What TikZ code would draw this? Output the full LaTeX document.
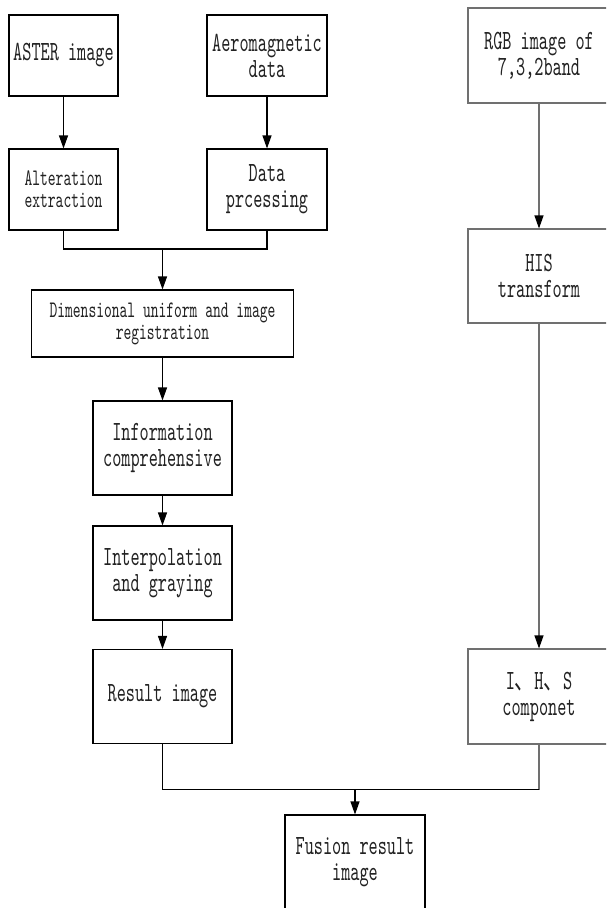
\documentclass[tikz,border=0pt]{standalone}
\usepackage{fontspec}
\usetikzlibrary{arrows.meta}
\newfontfamily\simfont[Extension=.otf, FakeStretch=0.626]{lmmono10-regular}
\newfontfamily\cjkfont[FakeStretch=0.7]{Noto Sans CJK SC}
\definecolor{txt}{HTML}{222222}
\definecolor{gline}{HTML}{707070}
\tikzset{
  box/.style={draw=black, line width=1.1pt, rectangle, inner sep=0pt, align=center,
    text=txt, font=\simfont\fontsize{27.8}{26}\selectfont},
  smallbox/.style={box, font=\simfont\fontsize{23.7}{22}\selectfont},
  gbox/.style={box, draw=gline},
  ln/.style={line width=1.1pt, draw=black},
  gln/.style={line width=1.1pt, draw=gline},
  arr/.style={line width=1.1pt, draw=black, -{Triangle[length=13pt,width=9pt,color=black]}},
  garr/.style={line width=1.1pt, draw=gline, -{Triangle[length=13pt,width=9pt,color=black]}},
}
\begin{document}
\begin{tikzpicture}[x=1pt,y=-1pt]
\clip (0,0) rectangle (606,908);
\fill[white] (0,0) rectangle (606,908);
% left column
\node[box, minimum width=109pt, minimum height=81pt] (aster) at (63.5,55.5) {ASTER image};
\node[box, minimum width=120pt, minimum height=81pt] (aero) at (267,55.5) {Aeromagnetic\\data};
\node[smallbox, minimum width=109pt, minimum height=81pt] (alter) at (63.5,189.5) {Alteration\\extraction};
\node[box, minimum width=120pt, minimum height=81pt] (datap) at (267,189.5) {Data\\prcessing};
\node[smallbox, minimum width=262pt, minimum height=67pt] (dim) at (162.5,323.5) {Dimensional uniform and image\\registration};
\node[box, minimum width=139pt, minimum height=94pt] (info) at (162.5,448) {Information\\comprehensive};
\node[box, minimum width=139pt, minimum height=94pt] (interp) at (162.5,573) {Interpolation\\and graying};
\node[box, minimum width=139pt, minimum height=94pt] (result) at (162.5,696.5) {Result image};
% right column
\node[gbox, minimum width=142pt, minimum height=95pt] (rgb) at (539,55.5) {RGB image of\\7,3,2band};
\node[gbox, minimum width=142pt, minimum height=94pt] (his) at (539,276) {HIS\\transform};
\node[gbox, minimum width=142pt, minimum height=95pt] (ihs) at (539,696.5) {I{\cjkfont 、}H{\cjkfont 、}S\\componet};
% bottom
\node[box, minimum width=140pt, minimum height=94pt] (fusion) at (355,862) {Fusion result\\image};

% connectors
\draw[arr] (aster) -- (alter);
\draw[arr] (aero) -- (datap);
\coordinate (m1) at (162.5,249);
\draw[ln] (alter.south) |- (m1);
\draw[ln] (datap.south) |- (m1);
\draw[arr] (m1) -- (dim.north);
\draw[arr] (dim) -- (info);
\draw[arr] (info) -- (interp);
\draw[arr] (interp) -- (result);
\draw[garr] (rgb) -- (his);
\draw[garr] (his) -- (ihs);
\coordinate (m2) at (355,789.5);
\draw[ln] (result.south) |- (m2);
\draw[gln] (ihs.south) -- (ihs.south |- m2);
\draw[ln] (ihs.south |- m2) -- (m2);
\draw[arr] (m2) -- (fusion.north);
\end{tikzpicture}
\end{document}
